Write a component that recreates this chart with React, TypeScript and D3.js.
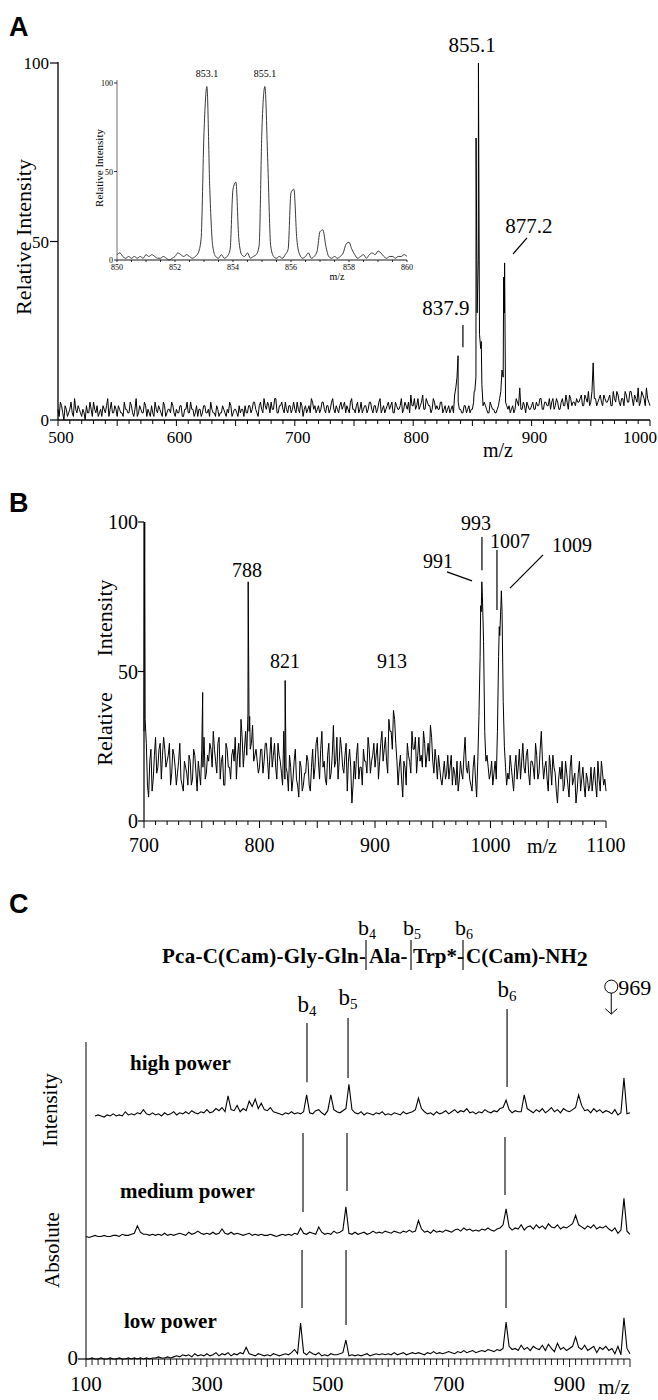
import React from 'react';
import * as d3 from 'd3';

// ---------------- Panel A (ESI spectrum 500-1000) ----------------
const A_START = 500; // even m/z samples
const A_ODD_START = 501; // odd m/z samples
const A_STEP = 2;
const A_NOISE = [
  3,5,2,4,1,3,2,6,2,3,
  1,2,4,2,3,5,2,1,3,4,
  2,6,3,2,4,1,3,2,5,3,
  2,4,1,6,2,3,2,4,3,1,
  2,5,2,3,1,4,2,3,5,2,
  3,2,4,1,3,2,5,3,2,1,
  3,2,4,2,1,3,2,4,1,2,
  3,1,2,4,2,3,1,2,3,4,
  2,4,3,5,2,4,3,6,3,4,
  5,3,6,2,4,3,5,2,4,3,
  3,5,2,4,3,2,4,6,3,2,
  4,3,5,2,4,3,6,2,3,4,
  3,5,4,2,6,3,4,2,5,3,
  4,3,5,2,4,3,6,3,2,4,
  3,5,2,4,3,6,3,4,5,7,
  4,3,6,4,7,3,5,4,3,5,
  4,3,5,3,2,4,3,2,9,5,
  3,2,4,3,2,3,8,30,24,10,
  5,3,2,4,3,2,4,8,12,5,
  3,2,4,3,5,9,3,4,5,3,
  4,3,5,4,6,3,5,4,3,6,
  4,5,3,6,4,5,7,4,5,6,
  5,7,4,6,8,5,16,6,5,7,
  4,6,5,7,4,6,8,5,6,4,
  7,5,8,4,6,9,5,7,4,6,
  4,
];
const A_NOISE_ODD = [
  1,4,0,3,2,5,1,3,4,2,
  3,0,2,5,1,3,4,2,1,3,
  4,1,5,2,3,4,2,1,3,2,
  5,2,3,1,4,2,5,1,2,4,
  1,3,4,2,5,1,3,2,4,1,
  2,4,1,3,5,2,3,1,4,3,
  1,4,2,3,5,2,1,3,2,4,
  2,3,5,1,3,2,4,3,1,2,
  4,2,5,3,1,5,2,4,5,2,
  3,6,2,4,5,2,3,4,2,5,
  2,3,5,1,4,3,2,5,4,3,
  2,5,3,4,2,5,3,4,2,5,
  4,2,3,5,3,2,5,3,2,4,
  2,5,3,4,2,5,2,4,3,5,
  4,2,5,3,4,2,5,3,2,4,
  6,4,3,5,3,6,4,2,6,3,
  3,5,2,4,3,2,4,7,12,3,
  2,4,2,4,3,5,12,45,20,4,
  4,2,5,3,2,3,6,14,30,4,
  4,3,2,6,4,3,5,2,4,3,
  5,3,4,6,3,5,4,6,5,3,
  6,3,5,4,7,3,6,5,4,5,
  6,4,7,5,4,8,6,4,6,5,
  7,5,6,4,8,5,7,4,6,8,
  5,8,6,7,5,4,8,6,9,5,
];
const A_PEAKS: [number, number][] = [
  [837.9, 18], [851.5, 8], [853.1, 79], [855.1, 100], [857.5, 22], [876.4, 40], [877.2, 44],
];
const A_XTICKS = [500, 600, 700, 800, 900, 1000];
const A_YTICKS = [0, 50, 100];
// annotation: text, m/z of text centre, intensity of baseline
const A_LABELS: [string, number, number][] = [
  ['855.1', 849.7, 103.1], ['877.2', 897.8, 52.4], ['837.9', 827.7, 29.4],
];
const A_LEADERS: [number, number, number, number][] = [
  [896.1, 51.0, 884.3, 46.5], [842, 26.6, 842, 20.4],
];

// ---------------- Inset (850-860) ----------------
const IN_START = 850;
const IN_STEP = 0.1;
const IN_VALUES = [
  3,4,2,1,2,1,2,1,2,1,
  3,2,3,2,1,1,2,1,0,1,
  2,4,3,2,3,2,1,2,4,12,
  72,98,40,8,2,1,3,1,2,6,
  40,44,12,3,2,4,1,2,3,8,
  75,98,55,8,2,1,2,1,3,6,
  38,40,12,3,1,2,4,1,2,5,
  16,17,8,2,1,2,1,2,4,9,
  10,6,3,1,2,3,1,3,4,3,
  5,4,2,1,2,2,1,2,2,3,
  2,
];
const IN_XTICKS = [850, 852, 854, 856, 858, 860];
const IN_YTICKS = [0, 50, 100];
const IN_LABELS: [string, number][] = [['853.1', 853.1], ['855.1', 855.1]];

// ---------------- Panel B (700-1100) ----------------
const B_START = 700;
const B_ODD_START = 701;
const B_STEP = 2;
const B_NOISE = [
  30,26,8,24,14,28,18,26,22,24,
  20,26,16,22,12,20,14,10,18,12,
  20,14,22,10,16,24,28,16,20,24,
  30,20,26,14,22,12,24,18,22,20,
  14,26,34,18,30,36,24,32,22,20,
  18,24,20,26,14,28,22,18,26,20,
  12,14,16,22,10,20,14,8,18,12,
  16,20,10,24,18,28,14,30,20,12,
  26,16,32,20,14,28,18,22,10,24,
  6,20,22,14,18,24,20,28,16,22,
  18,26,20,30,24,20,34,30,37,26,
  12,22,8,18,26,20,30,24,16,28,
  22,30,18,26,32,20,24,14,18,12,
  20,16,14,22,18,12,10,20,14,28,
  16,14,10,22,8,35,70,60,20,18,
  16,12,20,30,62,70,25,12,14,18,
  10,22,18,14,26,16,24,12,20,14,
  22,16,30,14,20,10,18,22,16,6,
  18,20,12,16,8,22,14,6,16,10,
  18,8,14,12,10,18,8,14,20,12,
  10,
];
const B_NOISE_ODD = [
  34,12,20,10,22,16,24,14,28,18,
  22,12,24,18,16,26,12,20,16,22,
  12,24,16,20,12,18,14,22,26,18,
  24,16,28,20,12,26,18,14,24,28,
  22,18,28,24,22,30,26,20,24,16,
  24,16,26,20,22,18,26,14,22,16,
  30,18,10,18,14,24,12,20,10,16,
  22,12,18,14,26,20,24,18,14,22,
  14,22,18,28,20,24,16,26,20,18,
  12,14,26,18,12,20,16,24,20,26,
  22,14,26,20,28,16,30,24,34,20,
  18,14,20,12,22,16,24,28,22,20,
  18,26,22,20,28,16,20,22,14,16,
  14,22,18,12,16,20,14,16,22,18,
  20,12,18,14,20,55,75,30,22,14,
  20,16,14,55,72,40,18,16,22,14,
  18,14,24,20,18,22,16,20,18,26,
  14,24,20,18,14,22,12,18,10,14,
  14,10,20,12,18,12,16,10,20,14,
  12,16,10,18,14,12,20,10,16,14,
];
const B_PEAKS: [number, number][] = [
  [700.6, 100], [750.8, 43], [790.2, 80], [791.5, 35], [822.2, 47],
  [991.5, 72], [992.5, 80], [1007.6, 65], [1009.4, 77],
];
const B_XTICKS = [700, 800, 900, 1000, 1100];
const B_YTICKS = [0, 50, 100];
const B_LABELS: [string, number, number][] = [
  ['788', 789.2, 81.6], ['821', 822.1, 51.2], ['913', 914.7, 51.2],
  ['993', 987.4, 97.3], ['991', 954.5, 84.6], ['1007', 1016.9, 91.3], ['1009', 1070.6, 90.0],
];
const B_LEADERS: [number, number, number, number][] = [
  [962.3, 83.3, 984.0, 80.3], [992.6, 95.0, 992.6, 83.9],
  [1005.6, 90.6, 1005.6, 70.6], [1045.5, 89.0, 1016.9, 77.9],
];

// ---------------- Panel C (MS/MS, three powers) ----------------
const C_START = 100;
const C_STEP = 5;
const C_HIGH = [
  null,null,null,2,3,2,1,3,2,4,
  2,3,2,6,3,4,3,5,4,8,
  4,3,5,3,4,2,5,3,4,6,
  3,5,4,6,4,7,5,4,6,5,
  8,5,6,9,7,10,6,21,8,7,
  12,6,9,7,16,11,18,9,14,8,
  7,10,6,5,4,3,5,4,6,4,
  5,4,6,22,5,4,7,8,5,3,
  7,22,8,6,5,7,9,32,8,5,
  4,6,3,5,4,3,5,4,6,3,
  4,3,5,4,3,6,4,5,6,8,
  19,9,6,4,5,3,6,4,5,7,
  4,6,8,5,7,6,9,5,6,4,
  6,5,8,6,5,7,6,9,10,17,
  8,5,7,6,6,22,9,7,5,8,
  6,9,5,7,10,6,8,5,9,7,
  6,8,10,22,12,7,8,5,9,6,
  8,5,7,6,4,8,3,5,38,4,
  5,
];
const C_MEDIUM = [
  1,0,1,2,1,1,2,1,1,2,
  2,1,3,2,2,3,4,11,5,3,
  3,2,3,2,3,2,4,2,3,2,
  3,4,3,2,5,3,4,6,4,3,
  4,3,5,3,4,8,4,3,5,3,
  4,3,2,3,4,2,3,2,3,2,
  2,3,2,1,2,3,2,3,2,4,
  3,9,4,3,5,4,3,10,5,3,
  4,3,6,4,5,7,29,4,3,5,
  3,4,5,3,4,6,4,5,4,6,
  5,4,6,5,4,6,5,7,5,6,
  16,8,5,6,4,7,5,6,5,7,
  6,5,7,8,6,9,7,8,6,7,
  6,8,7,9,7,6,8,9,12,27,
  10,7,9,8,12,7,10,11,8,12,
  9,11,8,13,10,9,12,8,10,9,
  11,13,21,12,10,8,11,9,12,8,
  10,9,11,8,6,9,4,7,37,6,
  3,
];
const C_LOW = [
  0,0,1,0,0,1,0,0,1,0,
  0,1,0,0,1,0,1,0,1,0,
  1,0,1,1,2,1,1,2,1,2,
  3,2,4,3,4,2,5,3,4,3,
  5,3,4,6,3,5,4,6,3,5,
  4,6,5,11,5,4,3,5,4,3,
  4,3,5,4,3,4,5,4,6,9,
  5,34,6,4,7,5,4,6,3,4,
  3,5,4,4,5,6,18,3,4,3,
  4,3,4,5,3,4,5,4,5,4,
  5,4,6,4,5,6,4,5,6,5,
  6,5,4,6,5,7,5,6,5,6,
  7,6,5,7,6,8,6,7,8,6,
  7,8,7,9,8,7,9,8,10,35,
  12,9,10,8,13,9,11,8,12,10,
  9,13,8,14,10,7,15,9,11,8,
  10,12,21,11,9,13,8,10,12,6,
  11,9,12,8,10,5,12,4,39,10,
  5,
];
const C_TRACES = [C_HIGH, C_MEDIUM, C_LOW];
const C_TRACE_NAMES = ['high power', 'medium power', 'low power'];
const C_OFFSETS = [228, 115, 0];
const C_NAME_POS: [number, number][] = [[130, 1070], [120, 1198], [124, 1328]];
const C_XTICKS = [100, 300, 500, 700, 900];
const C_ION_NAMES = ['4', '5', '6'];
// fragment markers per trace: [m/z, top, bottom] (intensity units)
const C_ION_LINES: [number, number, number][][] = [
  [[465.6, 318, 262], [533.5, 322.7, 265.9], [796.6, 331.2, 257.4]],
  [[459, 213.9, 139.1], [531.8, 213.9, 159], [793.2, 210.1, 155.2]],
  [[457.4, 103.2, 48.3], [530.2, 103.2, 32.2], [794.9, 103.2, 48.3]],
];
const C_ION_LABELS: [number, number][] = [[465.6, 328.4], [533.5, 335], [796.6, 342.5]];
const PRECURSOR = 969;

function gridPoints(start: number, step: number, vals: (number | null)[], offset = 0) {
  const pts: [number, number][] = [];
  vals.forEach((v, i) => {
    if (v !== null) pts.push([start + i * step, v + offset]);
  });
  return pts;
}
function combine(...sets: [number, number][][]) {
  const all = ([] as [number, number][]).concat(...sets);
  all.sort((a, b) => a[0] - b[0]);
  return all;
}

const serif = 'Liberation Serif, Times New Roman, serif';
const sans = 'Liberation Sans, Arial, sans-serif';

export default function App() {
  const ax = d3.scaleLinear().domain([500, 1000]).range([58, 650]);
  const ay = d3.scaleLinear().domain([0, 100]).range([420, 63]);
  const aLine = d3.line<[number, number]>().x((d) => ax(d[0])).y((d) => ay(d[1]));
  const aData = combine(gridPoints(A_START, A_STEP, A_NOISE), gridPoints(A_ODD_START, A_STEP, A_NOISE_ODD), A_PEAKS);

  const ix = d3.scaleLinear().domain([850, 860]).range([117, 407]);
  const iy = d3.scaleLinear().domain([0, 100]).range([260, 83]);
  const iLine = d3.line<[number, number]>().x((d) => ix(d[0])).y((d) => iy(d[1])).curve(d3.curveMonotoneX);
  const iData = gridPoints(IN_START, IN_STEP, IN_VALUES);

  const bx = d3.scaleLinear().domain([700, 1100]).range([144, 606]);
  const by = d3.scaleLinear().domain([0, 100]).range([821, 522]);
  const bLine = d3.line<[number, number]>().x((d) => bx(d[0])).y((d) => by(d[1]));
  const bData = combine(gridPoints(B_START, B_STEP, B_NOISE), gridPoints(B_ODD_START, B_STEP, B_NOISE_ODD), B_PEAKS);

  const cx = d3.scaleLinear().domain([100, 1000]).range([86, 630]);
  const cy = d3.scaleLinear().domain([0, 300]).range([1359, 1042]);
  const cLine = d3.line<[number, number]>().x((d) => cx(d[0])).y((d) => cy(d[1]));

  const aMinor = d3.range(500, 1001, 10);
  const iMinor = d3.range(850, 860.01, 0.5);
  const bMinor = d3.range(700, 1101, 10);
  const cMinor = d3.range(100, 1001, 10);

  return (
    <svg width={658} height={1400} style={{ position: 'absolute', left: 0, top: 0, background: '#fff' }}>
      <rect x={0} y={0} width={658} height={1400} fill="#fff" />
      {/* ===== Panel A ===== */}
      <text x={9} y={36} fontFamily={sans} fontWeight="bold" fontSize={27}>A</text>
      <line x1={ax(500)} x2={ax(500)} y1={ay(0)} y2={ay(100) - 1} stroke="#000" strokeWidth={1.3} />
      <line x1={ax(500)} x2={ax(1000)} y1={ay(0)} y2={ay(0)} stroke="#000" strokeWidth={1.3} />
      {A_YTICKS.map((t) => (
        <g key={'ay' + t}>
          <line x1={ax(500) - 8} x2={ax(500)} y1={ay(t)} y2={ay(t)} stroke="#000" strokeWidth={1.2} />
          <text x={ax(500) - 9} y={ay(t) + 6} textAnchor="end" fontFamily={serif} fontSize={17}>{t}</text>
        </g>
      ))}
      {aMinor.map((t) => (
        <line key={'axm' + t} x1={ax(t)} x2={ax(t)} y1={ay(0)} y2={ay(0) + (t % 50 === 0 ? 6 : 4)} stroke="#000" strokeWidth={1} />
      ))}
      {A_XTICKS.map((t) => (
        <text key={'axl' + t} x={t === 1000 ? 657 : ax(t) + 3} y={443} textAnchor={t === 1000 ? 'end' : 'middle'} fontFamily={serif} fontSize={17}>{t}</text>
      ))}
      <text x={498} y={457} textAnchor="middle" fontFamily={serif} fontSize={20}>m/z</text>
      <text transform="translate(23,237) rotate(-90)" textAnchor="middle" dominantBaseline="central" fontFamily={serif} fontSize={22}>Relative Intensity</text>
      <path d={aLine(aData) || ''} fill="none" stroke="#000" strokeWidth={1} />
      {A_LABELS.map(([t, m, v]) => (
        <text key={'al' + t} x={ax(m)} y={ay(v)} textAnchor="middle" fontFamily={serif} fontSize={21}>{t}</text>
      ))}
      {A_LEADERS.map(([m1, v1, m2, v2], i) => (
        <line key={'ald' + i} x1={ax(m1)} y1={ay(v1)} x2={ax(m2)} y2={ay(v2)} stroke="#000" strokeWidth={1.2} />
      ))}

      {/* ----- Inset ----- */}
      <line x1={ix(850)} x2={ix(850)} y1={iy(0)} y2={iy(100) - 3} stroke="#888" strokeWidth={1.2} />
      <line x1={ix(850)} x2={ix(860)} y1={iy(0)} y2={iy(0)} stroke="#000" strokeWidth={0.9} />
      {IN_YTICKS.map((t) => (
        <g key={'iy' + t}>
          <line x1={ix(850) - 3} x2={ix(850)} y1={iy(t)} y2={iy(t)} stroke="#000" strokeWidth={0.8} />
          <text x={ix(850) - 4} y={iy(t) + 3} textAnchor="end" fontFamily={serif} fontSize={8} fill="#000">{t}</text>
        </g>
      ))}
      {iMinor.map((t, i) => (
        <line key={'ixm' + i} x1={ix(t)} x2={ix(t)} y1={iy(0)} y2={iy(0) + 2} stroke="#000" strokeWidth={0.8} />
      ))}
      {IN_XTICKS.map((t) => (
        <text key={'ixl' + t} x={ix(t)} y={270} textAnchor="middle" fontFamily={serif} fontSize={8} fill="#000">{t}</text>
      ))}
      <text x={337} y={280} textAnchor="middle" fontFamily={serif} fontSize={10}>m/z</text>
      <text transform="translate(99,168) rotate(-90)" textAnchor="middle" dominantBaseline="central" fontFamily={serif} fontSize={11}>Relative Intensity</text>
      <path d={iLine(iData) || ''} fill="none" stroke="#222" strokeWidth={0.9} />
      {IN_LABELS.map(([t, m]) => (
        <text key={'il' + t} x={ix(m)} y={77} textAnchor="middle" fontFamily={serif} fontSize={10}>{t}</text>
      ))}

      {/* ===== Panel B ===== */}
      <text x={9} y={512} fontFamily={sans} fontWeight="bold" fontSize={27}>B</text>
      <line x1={bx(700)} x2={bx(700)} y1={by(0)} y2={by(100)} stroke="#000" strokeWidth={1.2} />
      <line x1={bx(700)} x2={bx(1100)} y1={by(0)} y2={by(0)} stroke="#000" strokeWidth={1.2} />
      {B_YTICKS.map((t) => (
        <g key={'by' + t}>
          <line x1={bx(700) - 6} x2={bx(700)} y1={by(t)} y2={by(t)} stroke="#000" strokeWidth={1.2} />
          <text x={bx(700) - 6} y={by(t) + 7} textAnchor="end" fontFamily={serif} fontSize={20}>{t}</text>
        </g>
      ))}
      {bMinor.map((t) => (
        <line key={'bxm' + t} x1={bx(t)} x2={bx(t)} y1={by(0)} y2={by(0) + (t % 50 === 0 ? 7 : 4)} stroke="#000" strokeWidth={1} />
      ))}
      {B_XTICKS.map((t) => (
        <text key={'bxl' + t} x={bx(t)} y={852} textAnchor="middle" fontFamily={serif} fontSize={20}>{t}</text>
      ))}
      <text x={542} y={853} textAnchor="middle" fontFamily={serif} fontSize={20}>m/z</text>
      <text transform="translate(104,618) rotate(-90)" textAnchor="middle" dominantBaseline="central" fontFamily={serif} fontSize={22}>Intensity</text>
      <text transform="translate(104,729) rotate(-90)" textAnchor="middle" dominantBaseline="central" fontFamily={serif} fontSize={22}>Relative</text>
      <path d={bLine(bData) || ''} fill="none" stroke="#000" strokeWidth={1} />
      {B_LABELS.map(([t, m, v]) => (
        <text key={'bl' + t} x={bx(m)} y={by(v)} textAnchor="middle" fontFamily={serif} fontSize={20}>{t}</text>
      ))}
      {B_LEADERS.map(([m1, v1, m2, v2], i) => (
        <line key={'bld' + i} x1={bx(m1)} y1={by(v1)} x2={bx(m2)} y2={by(v2)} stroke="#000" strokeWidth={1.2} />
      ))}

      {/* ===== Panel C ===== */}
      <text x={9} y={913} fontFamily={sans} fontWeight="bold" fontSize={27}>C</text>
      <text x={162} y={963} fontFamily={serif} fontWeight="bold" fontSize={21} textLength={204} lengthAdjust="spacing">Pca-C(Cam)-Gly-Gln-</text>
      <text x={369} y={963} fontFamily={serif} fontWeight="bold" fontSize={21}>Ala-</text>
      <text x={413} y={963} fontFamily={serif} fontWeight="bold" fontSize={21}>Trp*-</text>
      <text x={466} y={963} fontFamily={serif} fontWeight="bold" fontSize={21}>
        C(Cam)-NH<tspan fontSize={22} dy={3}>2</tspan>
      </text>
      {[366, 411, 463].map((x, i) => (
        <g key={'seq' + i}>
          <line x1={x} x2={x} y1={940} y2={970} stroke="#000" strokeWidth={1.1} />
          <text x={x + 1} y={935} textAnchor="middle" fontFamily={serif} fontSize={22}>
            b<tspan fontSize={14} dy={4}>{C_ION_NAMES[i]}</tspan>
          </text>
        </g>
      ))}
      <line x1={cx(100)} x2={cx(100)} y1={cy(0)} y2={cy(300)} stroke="#000" strokeWidth={1} />
      <line x1={cx(100)} x2={cx(1000)} y1={cy(0)} y2={cy(0)} stroke="#000" strokeWidth={1.2} />
      <line x1={cx(100) - 8} x2={cx(100)} y1={cy(0)} y2={cy(0)} stroke="#000" strokeWidth={1.2} />
      <text x={78} y={cy(0) + 6} textAnchor="end" fontFamily={serif} fontSize={21}>0</text>
      {cMinor.map((t) => (
        <line key={'cxm' + t} x1={cx(t)} x2={cx(t)} y1={cy(0)} y2={cy(0) + (t % 100 === 0 ? 8 : 6)} stroke="#000" strokeWidth={0.9} />
      ))}
      {C_XTICKS.map((t) => (
        <text key={'cxl' + t} x={cx(t)} y={1391} textAnchor="middle" fontFamily={serif} fontSize={21}>{t}</text>
      ))}
      <text x={614} y={1394} textAnchor="middle" fontFamily={serif} fontSize={21}>m/z</text>
      <text transform="translate(50,1110) rotate(-90)" textAnchor="middle" dominantBaseline="central" fontFamily={serif} fontSize={21}>Intensity</text>
      <text transform="translate(52,1250) rotate(-90)" textAnchor="middle" dominantBaseline="central" fontFamily={serif} fontSize={21}>Absolute</text>
      {C_TRACES.map((vals, k) => {
        const pts = gridPoints(C_START, C_STEP, vals, C_OFFSETS[k]);
        return <path key={'ct' + k} d={cLine(pts) || ''} fill="none" stroke="#000" strokeWidth={1.1} />;
      })}
      {C_TRACE_NAMES.map((n, k) => (
        <text key={'cn' + k} x={C_NAME_POS[k][0]} y={C_NAME_POS[k][1]} fontFamily={serif} fontWeight="bold" fontSize={21}>{n}</text>
      ))}
      {C_ION_LINES.map((row, k) =>
        row.map(([m, v1, v2], i) => (
          <line key={'cil' + k + i} x1={cx(m)} x2={cx(m)} y1={cy(v1)} y2={cy(v2)} stroke="#000" strokeWidth={1.1} />
        ))
      )}
      {C_ION_LABELS.map(([m, v], i) => (
        <text key={'cilab' + i} x={cx(m)} y={cy(v)} textAnchor="middle" fontFamily={serif} fontSize={23}>
          b<tspan fontSize={15} dy={4}>{C_ION_NAMES[i]}</tspan>
        </text>
      ))}
      <circle cx={cx(PRECURSOR)} cy={cy(352.4)} r={6.5} fill="none" stroke="#000" strokeWidth={1} />
      <text x={cx(PRECURSOR) + 7} y={cy(352.4) + 8} fontFamily={serif} fontSize={22}>{PRECURSOR}</text>
      <line x1={cx(PRECURSOR)} x2={cx(PRECURSOR)} y1={cy(346.3)} y2={cy(326.4)} stroke="#000" strokeWidth={1} />
      <path
        d={`M${cx(PRECURSOR) - 6},${cy(331.5)} L${cx(PRECURSOR)},${cy(326.4)} L${cx(PRECURSOR) + 6},${cy(331.5)}`}
        fill="none"
        stroke="#000"
        strokeWidth={1}
      />
    </svg>
  );
}
